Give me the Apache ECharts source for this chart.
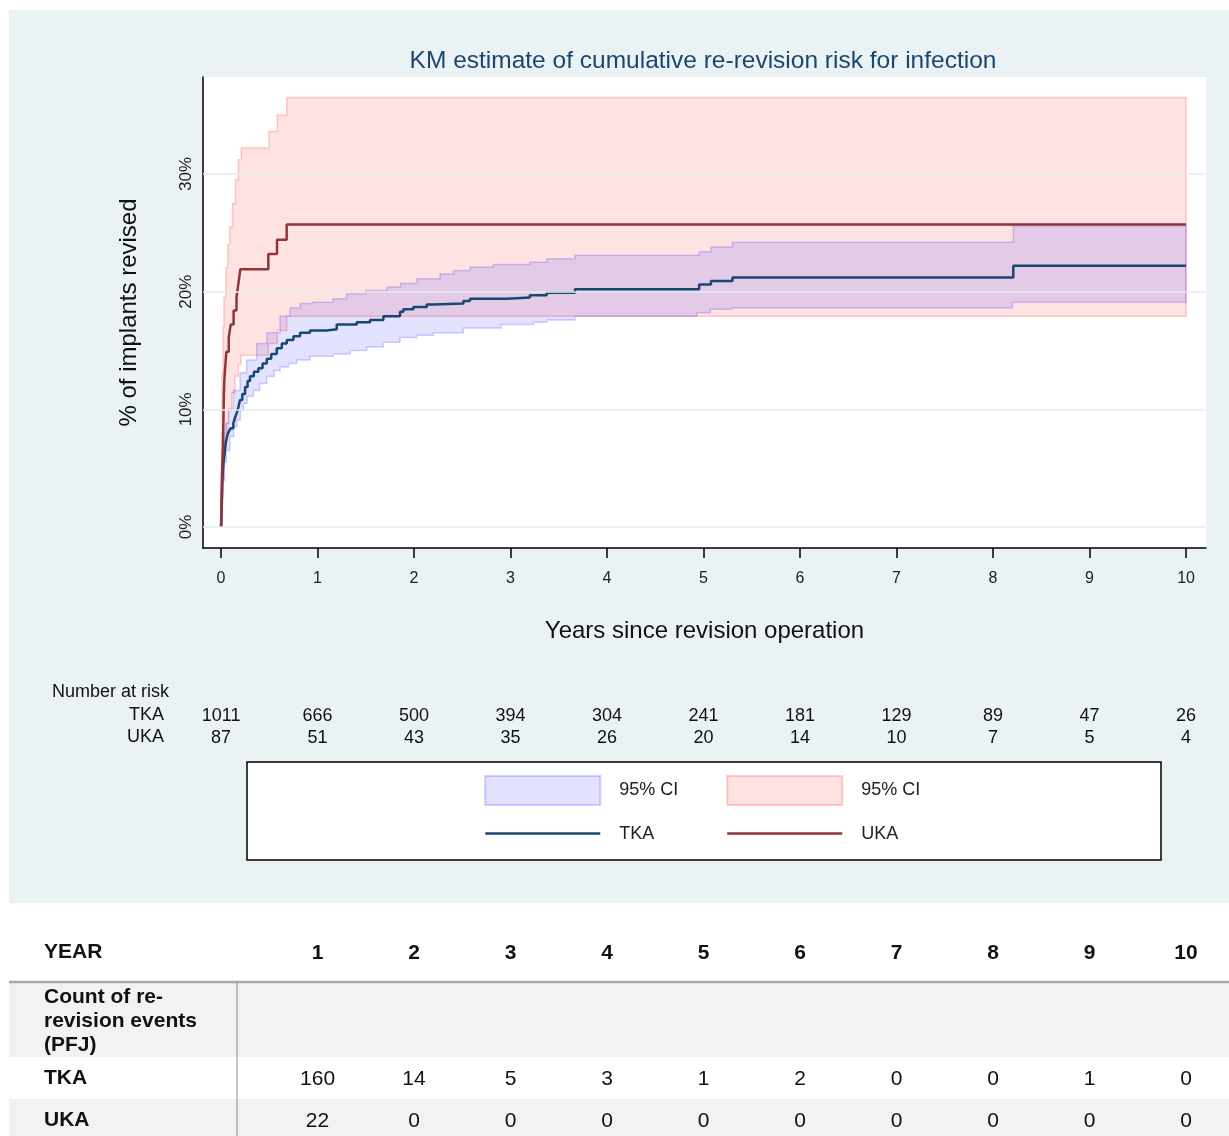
<!DOCTYPE html>
<html>
<head>
<meta charset="utf-8">
<script src="https://cdn.jsdelivr.net/npm/echarts@6.0.0/dist/echarts.min.js"></script>
<style>
  html, body { margin: 0; padding: 0; background: #fff; }
  #main { width: 1229px; height: 1136px; }
</style>
</head>
<body>
<div id="main"></div>
<script>
var FONT = "'Liberation Sans', Arial, sans-serif";

// ticks / labels
var years = [0, 1, 2, 3, 4, 5, 6, 7, 8, 9, 10];
var yTicks = [0, 10, 20, 30];
var tableYears = [1, 2, 3, 4, 5, 6, 7, 8, 9, 10];

// number at risk
var tkaRisk = [1011, 666, 500, 394, 304, 241, 181, 129, 89, 47, 26];
var ukaRisk = [87, 51, 43, 35, 26, 20, 14, 10, 7, 5, 4];

// count of re-revision events per year
var tkaEvents = [160, 14, 5, 3, 1, 2, 0, 0, 1, 0];
var ukaEvents = [22, 0, 0, 0, 0, 0, 0, 0, 0, 0];

// KM estimates [years, %]
var tkaEst = [[0,0],[0.005,1.5],[0.01,3],[0.015,4.2],[0.02,5.0],[0.03,5.8],[0.04,6.5],[0.05,7.2],
  [0.065,7.8],[0.08,8.1],[0.1,8.4],[0.127,8.8],[0.145,9.3],[0.163,9.7],[0.18,10.2],[0.197,10.8],
  [0.22,11.3],[0.249,11.9],[0.275,12.4],[0.3,12.8],[0.34,13.2],[0.387,13.5],[0.43,13.9],[0.474,14.3],
  [0.52,14.7],[0.577,15.2],[0.63,15.6],[0.681,15.9],[0.75,16.2],[0.819,16.5],[0.922,16.7],[1.095,16.8],
  [1.199,17.2],[1.406,17.4],[1.544,17.6],[1.682,17.9],[1.855,18.3],[1.889,18.5],[1.993,18.7],[2.132,18.9],
  [2.2,19.0],[2.511,19.2],[2.58,19.4],[2.96,19.5],[3.2,19.7],[3.375,19.9],[3.668,20.2],[4.955,20.6],
  [5.077,20.9],[5.3,21.2],[8.21,22.2],[10,22.2]];
var tkaLow = [[0,0],[0.01,2.5],[0.02,4],[0.035,5.5],[0.055,6.5],[0.09,7.7],[0.13,8.5],[0.163,9.1],
  [0.2,9.9],[0.232,10.5],[0.27,11.1],[0.335,11.6],[0.4,12.2],[0.474,12.8],[0.55,13.3],[0.612,13.6],
  [0.7,13.9],[0.784,14.2],[0.922,14.5],[1.164,14.7],[1.337,15.0],[1.51,15.3],[1.682,15.7],[1.855,16.1],
  [2.028,16.3],[2.2,16.5],[2.51,16.9],[2.9,17.2],[3.24,17.4],[3.375,17.6],[3.668,17.9],[4.93,18.2],
  [5.07,18.5],[5.29,18.6],[8.2,19.1],[10,19.1]];
var tkaUp = [[0,0],[0.005,3],[0.01,5],[0.02,7],[0.03,8],[0.05,8.8],[0.08,10],[0.127,11.6],[0.197,13.1],
  [0.266,14.2],[0.37,15.6],[0.474,16.5],[0.612,17.9],[0.716,18.6],[0.819,19.0],[0.95,19.1],[1.16,19.4],
  [1.3,19.8],[1.5,20.1],[1.72,20.4],[1.86,20.7],[2.03,21.1],[2.27,21.5],[2.41,21.8],[2.58,22.1],
  [2.82,22.3],[3.2,22.5],[3.375,22.8],[3.668,23.1],[4.955,23.4],[5.08,23.8],[5.3,24.2],[8.21,25.6],[10,25.6]];

var ukaEst = [[0,0],[0.005,2.3],[0.01,4.6],[0.015,5.7],[0.02,6.9],[0.025,9.2],[0.03,11.5],[0.035,12.6],
  [0.045,13.8],[0.055,14.9],[0.08,16.1],[0.1,17.2],[0.13,18.4],[0.16,19.5],[0.18,20.7],[0.2,21.9],
  [0.49,23.2],[0.58,24.4],[0.68,25.7],[10,25.7]];
var ukaLow = [[0,0],[0.01,2],[0.02,4],[0.03,6],[0.04,7.4],[0.06,8.8],[0.075,9.9],[0.11,11.4],[0.145,12.8],
  [0.18,13.8],[0.204,14.6],[0.49,15.6],[0.583,16.7],[0.681,17.9],[10,17.9]];
var ukaUp = [[0,0],[0.005,8],[0.01,13],[0.02,17],[0.03,19.5],[0.05,22],[0.07,24],[0.09,25.5],[0.12,27.5],
  [0.15,29.5],[0.18,31.2],[0.21,32.2],[0.497,33.6],[0.583,35.0],[0.681,36.5],[10,36.5]];

var xMin = -0.187, xMax = 10.207;
var yMin = -1.785, yMax = 38.24;

var TKA_COLOR = '#1a476f', UKA_COLOR = '#90353b';
var TKA_FILL = 'rgba(0,0,255,0.11)', TKA_EDGE = 'rgba(60,40,255,0.22)';
var UKA_FILL = 'rgba(255,0,0,0.11)', UKA_EDGE = 'rgba(255,60,60,0.25)';

function stepPath(pts) {
  var out = [];
  pts.forEach(function (p, i) {
    if (i > 0) out.push([p[0], pts[i - 1][1]]);
    out.push(p);
  });
  return out;
}

function band(upper, lower, fill, edge) {
  return function (params, api) {
    var ring = stepPath(upper).concat(stepPath(lower).reverse());
    return {
      type: 'polygon',
      shape: { points: ring.map(function (p) { return api.coord(p); }) },
      style: { fill: fill, stroke: edge, lineWidth: 1.5 }
    };
  };
}

function textAxis(values, at, offset, size, bold) {
  return {
    type: 'value', gridIndex: 0, min: xMin, max: xMax, position: 'bottom', offset: offset,
    axisLine: { show: false }, axisTick: { show: false }, splitLine: { show: false },
    axisLabel: {
      customValues: at, margin: 0, fontSize: size, fontFamily: FONT,
      fontWeight: bold ? 'bold' : 'normal', color: '#111',
      formatter: function (v) { var i = at.indexOf(v); return i < 0 ? '' : String(values[i]); }
    }
  };
}

function legendBlock(left, ciName, fill, edge, lineName, lineColor) {
  return {
    orient: 'vertical', left: left, top: 775, padding: 0,
    itemWidth: 115, itemHeight: 29, itemGap: 16, selectedMode: false,
    textStyle: { fontSize: 18, color: '#222', fontFamily: FONT, padding: [0, 0, 0, 14] },
    formatter: function (n) { return n.indexOf('CI') >= 0 ? '95% CI' : n; },
    data: [
      { name: ciName, icon: 'rect', itemStyle: { color: fill, borderColor: edge, borderWidth: 2 } },
      { name: lineName, itemStyle: { opacity: 0 }, lineStyle: { color: lineColor, width: 2.5 } }
    ]
  };
}

var chartDom = document.getElementById('main');
var myChart = echarts.init(chartDom);
var option;

option = {
  animation: false,
  backgroundColor: '#fff',
  textStyle: { fontFamily: FONT },
  title: {
    text: 'KM estimate of cumulative re-revision risk for infection',
    left: 698, top: 44, textAlign: 'center',
    textStyle: { fontSize: 24.5, fontWeight: 'normal', color: TKA_COLOR, fontFamily: FONT }
  },
  grid: {
    left: 203, top: 77, width: 1003, height: 471,
    show: true, backgroundColor: '#fff', borderWidth: 0
  },
  legend: [
    legendBlock(484, 'TKA 95% CI', TKA_FILL, TKA_EDGE, 'TKA', TKA_COLOR),
    legendBlock(726, 'UKA 95% CI', UKA_FILL, UKA_EDGE, 'UKA', UKA_COLOR)
  ],
  xAxis: [
    {
      type: 'value', min: xMin, max: xMax,
      name: 'Years since revision operation', nameLocation: 'middle', nameGap: 71,
      nameTextStyle: { fontSize: 24, color: '#111', fontFamily: FONT },
      axisLine: { show: true, onZero: false, lineStyle: { color: '#000', width: 1.5 } },
      axisTick: { show: true, customValues: years, length: 10, lineStyle: { color: '#000', width: 1.5 } },
      axisLabel: { customValues: years, margin: 23, fontSize: 16, color: '#222', fontFamily: FONT },
      splitLine: { show: false }
    },
    textAxis(tkaRisk, years, 159, 18, false),
    textAxis(ukaRisk, years, 181, 18, false),
    textAxis(tableYears, tableYears, 394.5, 21, true),
    textAxis(tkaEvents, tableYears, 520.5, 21, false),
    textAxis(ukaEvents, tableYears, 562.5, 21, false)
  ],
  yAxis: {
    type: 'value', min: yMin, max: yMax,
    name: '% of implants revised', nameLocation: 'middle', nameGap: 62,
    nameTextStyle: { fontSize: 24, color: '#111', fontFamily: FONT },
    axisLine: { show: true, onZero: false, lineStyle: { color: '#000', width: 1.5 } },
    axisTick: { show: false },
    axisLabel: { customValues: yTicks, rotate: 90, margin: 8, fontSize: 17, color: '#222', fontFamily: FONT, formatter: '{value}%' },
    splitLine: { show: false }
  },
  graphic: [
    { type: 'rect', z: -100, shape: { x: 9, y: 10, width: 1220, height: 893 }, style: { fill: '#eaf2f3' } },
    { type: 'rect', shape: { x: 247, y: 762, width: 914, height: 98 }, style: { fill: '#fff', stroke: '#000', lineWidth: 1.5 } },
    { type: 'text', x: 52, y: 692, style: { text: 'Number at risk', fontSize: 18, fontFamily: FONT, fill: '#111', verticalAlign: 'middle' } },
    { type: 'text', x: 164, y: 715, style: { text: 'TKA', fontSize: 18, fontFamily: FONT, fill: '#111', align: 'right', verticalAlign: 'middle' } },
    { type: 'text', x: 164, y: 737, style: { text: 'UKA', fontSize: 18, fontFamily: FONT, fill: '#111', align: 'right', verticalAlign: 'middle' } },
    // table
    { type: 'rect', z: -50, shape: { x: 9, y: 983, width: 1220, height: 74 }, style: { fill: '#f2f2f2' } },
    { type: 'rect', z: -50, shape: { x: 9, y: 1099, width: 1220, height: 37 }, style: { fill: '#f2f2f2' } },
    { type: 'line', shape: { x1: 9, y1: 982, x2: 1229, y2: 982 }, style: { stroke: '#a8a8a8', lineWidth: 2.5 } },
    { type: 'line', shape: { x1: 237, y1: 983, x2: 237, y2: 1136 }, style: { stroke: '#8c8c8c', lineWidth: 1 } },
    { type: 'text', x: 44, y: 952, style: { text: 'YEAR', fontSize: 21, fontWeight: 'bold', fontFamily: FONT, fill: '#111', verticalAlign: 'middle' } },
    { type: 'text', x: 44, y: 985, style: { text: 'Count of re-\nrevision events\n(PFJ)', fontSize: 21, lineHeight: 24, fontWeight: 'bold', fontFamily: FONT, fill: '#111', verticalAlign: 'top' } },
    { type: 'text', x: 44, y: 1078, style: { text: 'TKA', fontSize: 21, fontWeight: 'bold', fontFamily: FONT, fill: '#111', verticalAlign: 'middle' } },
    { type: 'text', x: 44, y: 1120, style: { text: 'UKA', fontSize: 21, fontWeight: 'bold', fontFamily: FONT, fill: '#111', verticalAlign: 'middle' } }
  ],
  series: [
    {
      name: 'grid', type: 'line', data: [], z: 1, silent: true,
      markLine: {
        silent: true, symbol: 'none', label: { show: false },
        lineStyle: { color: '#e2ecef', type: 'solid', width: 1.5 },
        data: yTicks.map(function (v) { return { yAxis: v }; })
      }
    },
    {
      name: 'UKA 95% CI', type: 'custom', z: 2, data: [[0, 0]],
      itemStyle: { color: UKA_FILL, borderColor: UKA_EDGE },
      renderItem: band(ukaUp, ukaLow, UKA_FILL, UKA_EDGE)
    },
    {
      name: 'TKA 95% CI', type: 'custom', z: 2, data: [[0, 0]],
      itemStyle: { color: TKA_FILL, borderColor: TKA_EDGE },
      renderItem: band(tkaUp, tkaLow, TKA_FILL, TKA_EDGE)
    },
    {
      name: 'TKA', type: 'line', step: 'end', symbol: 'none', z: 3, data: tkaEst,
      lineStyle: { color: TKA_COLOR, width: 2.5 }, itemStyle: { color: TKA_COLOR }
    },
    {
      name: 'UKA', type: 'line', step: 'end', symbol: 'none', z: 3, data: ukaEst,
      lineStyle: { color: UKA_COLOR, width: 2.5 }, itemStyle: { color: UKA_COLOR }
    }
  ]
};

option && myChart.setOption(option);
</script>
</body>
</html>
